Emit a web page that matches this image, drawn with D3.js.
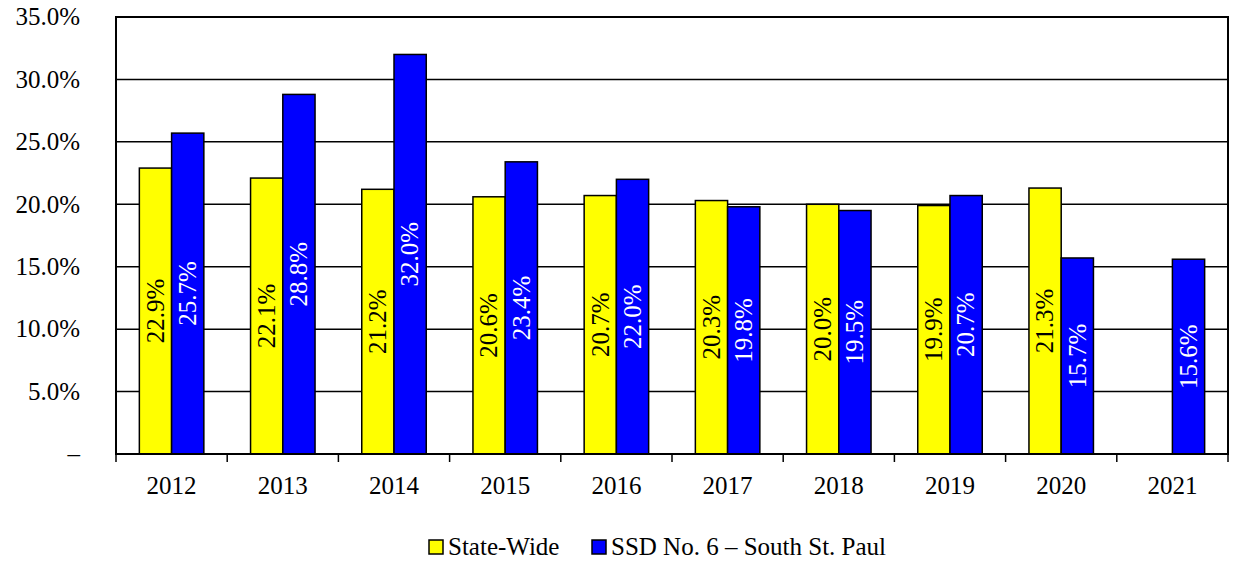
<!DOCTYPE html>
<html>
<head>
<meta charset="utf-8">
<script src="https://cdn.jsdelivr.net/npm/d3@7"></script>
<style>
  body { margin: 0; background: #fff; }
  svg text { font-family: "Liberation Serif", "DejaVu Serif", "Noto Serif", "Times New Roman", Times, serif; }
</style>
</head>
<body>
<div id="chart"></div>
<script>
const years = ["2012", "2013", "2014", "2015", "2016", "2017", "2018", "2019", "2020", "2021"];
const stateWide = [22.9, 22.1, 21.2, 20.6, 20.7, 20.3, 20.0, 19.9, 21.3, null];
const southStPaul = [25.7, 28.8, 32.0, 23.4, 22.0, 19.8, 19.5, 20.7, 15.7, 15.6];
const seriesNames = ["State-Wide", "SSD No. 6 \u2013 South St. Paul"];
const seriesColors = ["#ffff00", "#0000ff"];
const labelColors = ["#000", "#fff"];
const yTicks = [0, 5, 10, 15, 20, 25, 30, 35];

const width = 1233, height = 561;
const margin = { top: 17, right: 5, bottom: 107, left: 116 };
const plotW = width - margin.left - margin.right;
const plotH = height - margin.top - margin.bottom;
const fs = 25;

const svg = d3.select('#chart').append('svg')
  .attr('width', width)
  .attr('height', height);

const g = svg.append('g').attr('transform', `translate(${margin.left},${margin.top})`);

const x0 = d3.scaleBand().domain(years).range([0, plotW]).paddingInner(0.42).paddingOuter(0.21);
const x1 = d3.scaleBand().domain([0, 1]).range([0, x0.bandwidth()]);
const y = d3.scaleLinear().domain([0, 35]).range([plotH, 0]);

// gridlines
g.selectAll('line.grid')
  .data(yTicks.filter(t => t > 0 && t < 35))
  .enter().append('line')
  .attr('x1', 0).attr('x2', plotW)
  .attr('y1', d => y(d)).attr('y2', d => y(d))
  .attr('stroke', '#000').attr('stroke-width', 1.5);

// y labels
g.selectAll('text.ylab')
  .data(yTicks)
  .enter().append('text')
  .attr('x', -36)
  .attr('y', d => y(d))
  .attr('dy', '0.33em')
  .attr('text-anchor', 'end')
  .attr('font-size', fs)
  .text(d => d === 0 ? '\u2013' : d.toFixed(1) + '%');

// bars
const rows = years.map((yr, i) => ({ year: yr, vals: [stateWide[i], southStPaul[i]] }));
const groups = g.selectAll('g.grp')
  .data(rows)
  .enter().append('g')
  .attr('transform', d => `translate(${x0(d.year)},0)`);

const cells = groups.selectAll('g.cell')
  .data(d => d.vals.map((v, k) => ({ v, k })).filter(c => c.v != null))
  .enter().append('g');

cells.append('rect')
  .attr('x', d => x1(d.k))
  .attr('y', d => y(d.v))
  .attr('width', x1.bandwidth())
  .attr('height', d => plotH - y(d.v))
  .attr('fill', d => seriesColors[d.k])
  .attr('stroke', '#000').attr('stroke-width', 1.5);

cells.append('text')
  .attr('transform', d => `translate(${x1(d.k) + x1.bandwidth() / 2},${(y(d.v) + plotH) / 2}) rotate(-90)`)
  .attr('text-anchor', 'middle')
  .attr('dy', '0.33em')
  .attr('font-size', fs)
  .attr('fill', d => labelColors[d.k])
  .text(d => d.v.toFixed(1) + '%');

// frame
g.append('rect')
  .attr('x', 0).attr('y', 0)
  .attr('width', plotW).attr('height', plotH)
  .attr('fill', 'none').attr('stroke', '#000').attr('stroke-width', 2);

// x ticks at category boundaries
const bounds = d3.range(years.length + 1).map(i => i * plotW / years.length);
g.selectAll('line.xtick')
  .data(bounds)
  .enter().append('line')
  .attr('x1', d => d).attr('x2', d => d)
  .attr('y1', plotH).attr('y2', plotH + 8)
  .attr('stroke', '#000').attr('stroke-width', 1.5);

g.selectAll('text.xlab')
  .data(years)
  .enter().append('text')
  .attr('x', d => x0(d) + x0.bandwidth() / 2)
  .attr('y', plotH + 40)
  .attr('text-anchor', 'middle')
  .attr('font-size', fs)
  .text(d => d);

// legend
const legend = svg.append('g').attr('transform', 'translate(429,547)');
const itemX = [0, 163];
itemX.forEach((lx, k) => {
  legend.append('rect')
    .attr('x', lx).attr('y', -7)
    .attr('width', 14).attr('height', 14)
    .attr('fill', seriesColors[k])
    .attr('stroke', '#000').attr('stroke-width', 1.5);
  legend.append('text')
    .attr('x', lx + 19).attr('y', 0)
    .attr('dy', '0.33em')
    .attr('font-size', fs)
    .text(seriesNames[k]);
});
</script>
</body>
</html>
